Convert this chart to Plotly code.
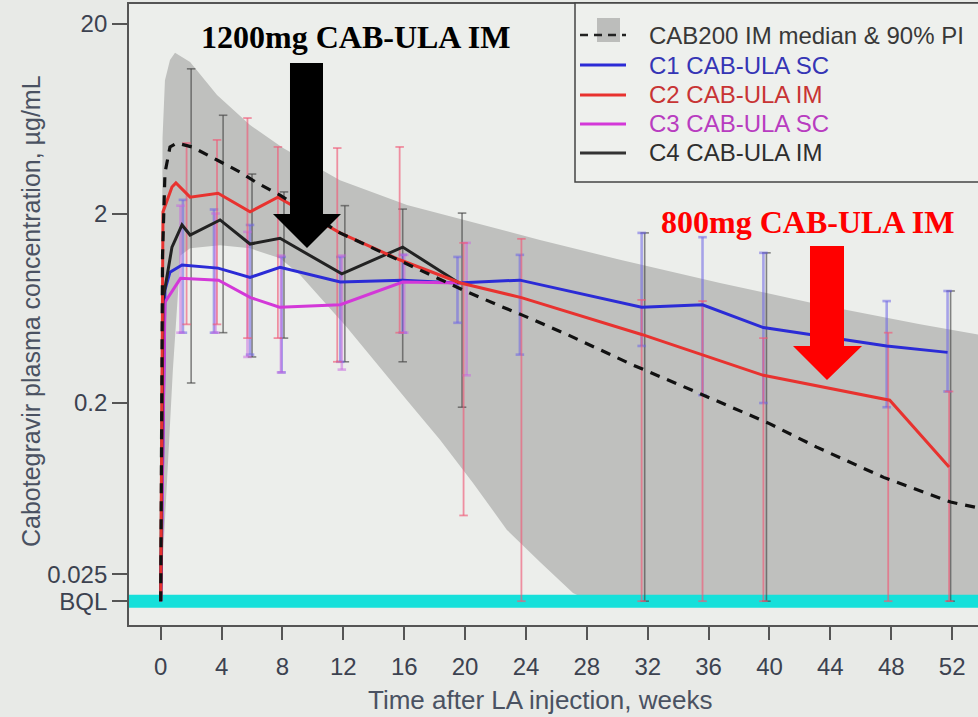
import plotly.graph_objects as go

# ---------------- data ----------------
BQL = 0.018
x_ticks = [0, 4, 8, 12, 16, 20, 24, 28, 32, 36, 40, 44, 48, 52]
y_tickvals = [BQL, 0.025, 0.2, 2, 20]
y_ticktext = ["BQL", "0.025", "0.2", "2", "20"]

# CAB200 IM model median
med_t = [0, 0.12, 0.28, 0.61, 1.07, 2.06, 3.7, 5.21, 6.33, 7.84, 11.78, 15.8, 19.86, 22.1,
         23.8, 26.7, 31.0, 34.1, 37.2, 39.9, 43.1, 47.5, 51.9, 53.7]
med_v = [BQL, 1.2, 3.27, 4.49, 4.71, 4.49, 3.83, 3.31, 2.90, 2.50, 1.58, 1.12, 0.79, 0.66,
         0.58, 0.46, 0.318, 0.249, 0.195, 0.157, 0.117, 0.081, 0.060, 0.056]
# 90% prediction interval
pi_hi_t = [0, 0.12, 0.28, 0.61, 0.94, 1.93, 3.7, 5.87, 8.04, 11.78, 16.18, 20.52, 24.92,
           30.18, 36.75, 43.32, 49.89, 53.7]
pi_hi_v = [BQL, 5.0, 10.1, 12.9, 14.1, 12.6, 8.44, 5.86, 4.43, 3.00, 2.22, 1.80, 1.45,
           1.14, 0.86, 0.66, 0.52, 0.46]
pi_lo_t = [0, 0.3, 0.8, 1.3, 1.93, 3.9, 5.87, 7.84, 9.15, 12.24, 16.18, 18.35, 20.52,
           22.75, 24.92, 27.09, 28.2, 53.7]
pi_lo_v = [BQL, 0.05, 0.3, 1.2, 1.31, 1.36, 1.31, 1.16, 0.95, 0.50, 0.207, 0.128, 0.0757,
           0.0428, 0.029, 0.0199, BQL, BQL]

# C1 CAB-ULA SC
c1_t = [0, 0.28, 0.61, 1.4, 3.77, 5.87, 7.84, 11.8, 15.9, 19.5, 23.6, 31.6, 35.6, 39.6, 47.7, 51.7]
c1_v = [BQL, 0.79, 0.98, 1.07, 1.03, 0.92, 1.04, 0.87, 0.89, 0.86, 0.89, 0.64, 0.66, 0.50, 0.40, 0.37]
c1_eb_t = [1.46, 3.5, 5.87, 7.95, 11.8, 15.9, 19.5, 23.6, 31.6, 35.6, 39.6, 47.7, 51.7]
c1_eb_hi = [2.36, 2.1, 1.74, 1.18, 1.18, 1.21, 1.18, 1.21, 1.58, 1.50, 1.24, 0.69, 0.78]
c1_eb_lo = [0.47, 0.47, 0.36, 0.29, 0.33, 0.47, 0.53, 0.36, 0.40, 0.22, 0.20, 0.19, 0.23]

# C2 CAB-ULA IM
c2_t = [0, 0.15, 0.74, 1.0, 1.93, 3.77, 5.87, 7.7, 11.78, 15.7, 19.7, 23.7, 31.6, 35.6, 39.6, 47.9, 51.8]
c2_v = [BQL, 2.04, 2.76, 2.90, 2.44, 2.56, 2.04, 2.44, 1.58, 1.14, 0.86, 0.72, 0.46, 0.36, 0.28, 0.207, 0.092]
c2_eb_t = [1.7, 3.7, 5.7, 7.7, 11.6, 15.7, 19.9, 23.7, 31.6, 35.6, 39.6, 47.8, 51.8]
c2_eb_hi = [4.71, 4.89, 6.38, 4.49, 4.43, 4.49, 1.40, 1.47, 0.70, 0.69, 0.44, 0.47, 0.23]
c2_eb_lo = [0.52, 0.52, 0.44, 0.44, 0.33, 0.47, 0.051, BQL, BQL, BQL, BQL, BQL, BQL]

# C3 CAB-ULA SC
c3_t = [0, 0.28, 1.3, 3.8, 5.9, 7.8, 11.8, 15.9, 19.8]
c3_v = [BQL, 0.68, 0.91, 0.89, 0.72, 0.64, 0.66, 0.87, 0.86]
c3_eb_t = [1.3, 3.6, 5.7, 7.9, 11.9, 16.0, 20.1]
c3_eb_hi = [2.2, 2.0, 1.6, 1.2, 1.2, 1.21, 1.40]
c3_eb_lo = [0.47, 0.47, 0.35, 0.29, 0.30, 0.47, 0.28]

# C4 CAB-ULA IM
c4_t = [0, 0.15, 0.74, 1.4, 1.93, 3.9, 5.87, 7.84, 11.9, 15.9, 19.6]
c4_v = [BQL, 0.70, 1.33, 1.74, 1.54, 1.85, 1.38, 1.48, 0.96, 1.33, 0.86]
c4_eb_t = [2.0, 4.1, 6.0, 8.1, 12.1, 15.9, 19.8, 31.8, 39.8, 51.9]
c4_eb_hi = [11.6, 6.6, 3.23, 2.6, 2.2, 2.11, 2.01, 1.58, 1.24, 0.78]
c4_eb_lo = [0.255, 0.47, 0.35, 0.44, 0.33, 0.33, 0.19, BQL, BQL, BQL]

legend_labels = ["CAB200 IM median & 90% PI", "C1 CAB-ULA SC", "C2 CAB-ULA IM",
                 "C3 CAB-ULA SC", "C4 CAB-ULA IM"]

# ---------------- layout geometry / styles ----------------
W, H = 978, 717
ML, MR, MT, MB = 129, 0, 4, 92
X_RANGE = [-2.083, 53.70]
Y_RANGE = [-1.8705, 1.4066]

def px2x(px):
    return (px - ML) / (W - ML - MR)

def py2y(py):
    return (H - MB - py) / (H - MT - MB)

FONT = "Liberation Sans, Arial, sans-serif"
SERIF = "Liberation Serif, Times New Roman, serif"
C_BLUE, C_RED, C_MAG, C_BLK = "#2b2bd6", "#e8322f", "#d338d8", "#222222"

fig = go.Figure()

# 90% PI band
fig.add_trace(go.Scatter(
    x=pi_hi_t + pi_lo_t[::-1], y=pi_hi_v + pi_lo_v[::-1],
    fill="toself", fillcolor="#bfc0be", mode="lines",
    line=dict(width=0, color="#bfc0be"), hoverinfo="skip", showlegend=False))

# BQL band
fig.add_trace(go.Scatter(x=X_RANGE, y=[BQL, BQL], mode="lines",
                         line=dict(color="#16e0da", width=13), showlegend=False))


def bars(t, lo, hi, color, width, cap=0.28):
    xs, ys = [], []
    for ti, l, h in zip(t, lo, hi):
        xs += [ti, ti, None, ti - cap, ti + cap, None, ti - cap, ti + cap, None]
        ys += [l, h, None, l, l, None, h, h, None]
    return go.Scatter(x=xs, y=ys, mode="lines", line=dict(color=color, width=width),
                      hoverinfo="skip", showlegend=False)

fig.add_trace(bars(c4_eb_t, c4_eb_lo, c4_eb_hi, "rgba(70,70,70,0.65)", 1.6))
fig.add_trace(bars(c1_eb_t, c1_eb_lo, c1_eb_hi, "rgba(110,100,230,0.55)", 2.6))
fig.add_trace(bars(c3_eb_t, c3_eb_lo, c3_eb_hi, "rgba(200,100,225,0.5)", 2.6))
fig.add_trace(bars(c2_eb_t, c2_eb_lo, c2_eb_hi, "rgba(240,90,120,0.65)", 1.8))

for t, v, c in [(c1_t, c1_v, C_BLUE), (c3_t, c3_v, C_MAG), (c4_t, c4_v, C_BLK), (c2_t, c2_v, C_RED)]:
    fig.add_trace(go.Scatter(x=t, y=v, mode="lines", line=dict(color=c, width=3),
                             showlegend=False))

# model median
fig.add_trace(go.Scatter(x=med_t, y=med_v, mode="lines",
                         line=dict(color="#111111", width=3.2, dash="10px,8px"),
                         showlegend=False))

shapes = []
annotations = []

# legend box
shapes.append(dict(type="rect", xref="paper", yref="paper",
                   x0=px2x(575), x1=px2x(1000), y0=py2y(182), y1=py2y(3),
                   fillcolor="#eef0ed", line=dict(color="#444444", width=1.5), layer="above"))
shapes.append(dict(type="rect", xref="paper", yref="paper",
                   x0=px2x(597), x1=px2x(620), y0=py2y(42), y1=py2y(18),
                   fillcolor="#bcbdbb", line=dict(width=0), layer="above"))
shapes.append(dict(type="line", xref="paper", yref="paper",
                   x0=px2x(580), x1=px2x(626), y0=py2y(35), y1=py2y(35),
                   line=dict(color="#222222", width=2.5, dash="8px,6px"), layer="above"))
leg_rows = [35, 65, 95, 124, 153]
leg_line_cols = [None, C_BLUE, C_RED, C_MAG, "#333333"]
leg_text_cols = ["#383838", "#3535b5", "#c83434", "#b83cc0", "#2e2e2e"]
for row, lab, lc, tc in zip(leg_rows, legend_labels, leg_line_cols, leg_text_cols):
    if lc:
        shapes.append(dict(type="line", xref="paper", yref="paper",
                           x0=px2x(580), x1=px2x(626), y0=py2y(row), y1=py2y(row),
                           line=dict(color=lc, width=3), layer="above"))
    annotations.append(dict(x=px2x(647), y=py2y(row), xref="paper", yref="paper",
                            text=lab, showarrow=False, xanchor="left", yanchor="middle",
                            font=dict(family=FONT, size=24, color=tc)))

# arrows
def poly(pts):
    return "M " + " L ".join(f"{px2x(a):.5f},{py2y(b):.5f}" for a, b in pts) + " Z"

shapes.append(dict(type="path", xref="paper", yref="paper",
                   path=poly([(290, 63), (323, 63), (323, 214), (341, 214), (307, 248),
                              (273, 214), (290, 214)]),
                   fillcolor="#000000", line=dict(width=0), layer="above"))
shapes.append(dict(type="path", xref="paper", yref="paper",
                   path=poly([(810, 246), (844, 246), (844, 346), (862, 346), (827, 380),
                              (793, 346), (810, 346)]),
                   fillcolor="#ff0000", line=dict(width=0), layer="above"))

annotations.append(dict(x=px2x(355), y=py2y(37), xref="paper", yref="paper",
                        text="<b>1200mg CAB-ULA IM</b>", showarrow=False,
                        xanchor="center", yanchor="middle",
                        font=dict(family=SERIF, size=32, color="#000000")))
annotations.append(dict(x=px2x(807), y=py2y(222), xref="paper", yref="paper",
                        text="<b>800mg CAB-ULA IM</b>", showarrow=False,
                        xanchor="center", yanchor="middle",
                        font=dict(family=SERIF, size=32, color="#ff0000")))

# axis titles
annotations.append(dict(x=px2x(540), y=py2y(700), xref="paper", yref="paper",
                        text="Time after LA injection, weeks", showarrow=False,
                        xanchor="center", yanchor="middle",
                        font=dict(family=FONT, size=26, color="#4a5262")))
annotations.append(dict(x=px2x(31), y=py2y(311), xref="paper", yref="paper",
                        text="Cabotegravir plasma concentration, \u00b5g/mL", showarrow=False,
                        textangle=-90, xanchor="center", yanchor="middle",
                        font=dict(family=FONT, size=25, color="#4a5262")))

fig.update_layout(
    width=W, height=H, margin=dict(l=ML, r=MR, t=MT, b=MB),
    paper_bgcolor="#e8eae7", plot_bgcolor="#eceeeb",
    showlegend=False, shapes=shapes, annotations=annotations,
    xaxis=dict(range=X_RANGE, tickvals=x_ticks, ticktext=[str(v) for v in x_ticks],
               ticks="outside", ticklen=13, tickwidth=1.5, tickcolor="#555555",
               ticklabelstandoff=6,
               showline=True, linecolor="#555555", linewidth=1.8, mirror=True,
               showgrid=False, zeroline=False,
               tickfont=dict(family=FONT, size=24, color="#3c4250")),
    yaxis=dict(type="log", range=Y_RANGE, tickvals=y_tickvals, ticktext=y_ticktext,
               ticks="outside", ticklen=15, tickwidth=1.5, tickcolor="#555555",
               showline=True, linecolor="#555555", linewidth=1.8, mirror=False,
               showgrid=False, zeroline=False,
               tickfont=dict(family=FONT, size=24, color="#3c4250")),
)

fig.write_html("out.html")
